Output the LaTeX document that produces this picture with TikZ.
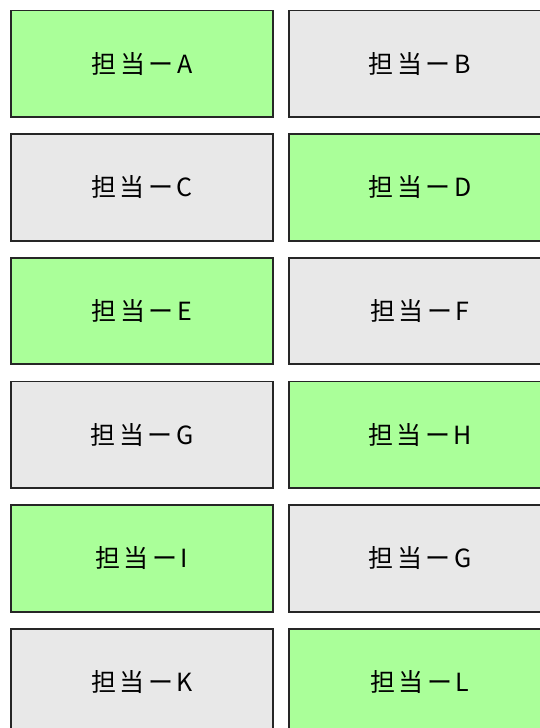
\documentclass[tikz,border=0pt]{standalone}
\usepackage{fontspec}
\setmainfont{Noto Sans CJK JP}
\newfontfamily\lblfont[LetterSpace=14]{Noto Sans CJK JP}
\newcommand{\lbl}[1]{\raisebox{-2.5pt}{#1}}
\begin{document}
\begin{tikzpicture}[x=1pt,y=-1pt,
  cellbox/.style={draw=black!85,line width=1.8pt,minimum width=262pt,minimum height=106.5pt,anchor=north west,inner sep=0pt,font=\lblfont\fontsize{25}{25}\selectfont},
  grn/.style={cellbox,fill=green1},
  gry/.style={cellbox,fill=gray1}]
\definecolor{green1}{HTML}{AAFF99}
\definecolor{gray1}{HTML}{E8E8E8}
\useasboundingbox (0,0) rectangle (540,728);
\clip (0,0) rectangle (540,728);
\fill[white] (0,0) rectangle (540,728);
\node[grn] (a) at (10,9.5) {\lbl{担当ーA}};
\node[gry] (b) at (288,9.5) {\lbl{担当ーB}};
\node[gry] (c) at (10,133.2) {\lbl{担当ーC}};
\node[grn] (d) at (288,133.2) {\lbl{担当ーD}};
\node[grn] (e) at (10,256.9) {\lbl{担当ーE}};
\node[gry] (f) at (288,256.9) {\lbl{担当ーF}};
\node[gry] (g) at (10,380.6) {\lbl{担当ーG}};
\node[grn] (h) at (288,380.6) {\lbl{担当ーH}};
\node[grn] (i) at (10,504.3) {\lbl{担当ーI}};
\node[gry] (j) at (288,504.3) {\lbl{担当ーG}};
\node[gry] (k) at (10,628) {\lbl{担当ーK}};
\node[grn] (l) at (288,628) {\lbl{担当ーL}};
\end{tikzpicture}
\end{document}
